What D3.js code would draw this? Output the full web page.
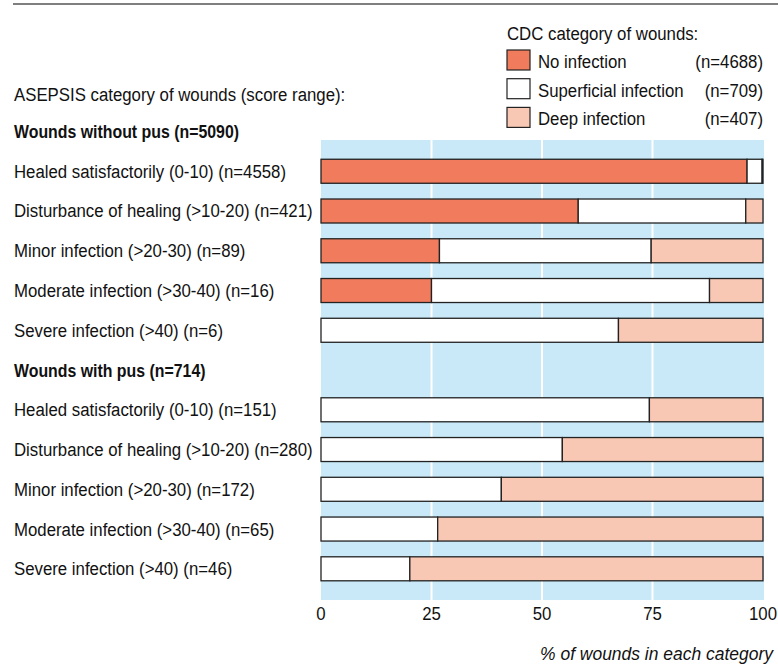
<!DOCTYPE html>
<html>
<head>
<meta charset="utf-8">
<script src="https://cdn.jsdelivr.net/npm/d3@7"></script>
<style>
  body { margin: 0; background: #fff; }
  svg text { font-family: "Liberation Sans", Arial, sans-serif; fill: #111; }
</style>
</head>
<body>
<div id="chart"></div>
<script>
// row labels (headers are drawn bold, without bars)
const rowLabels = [
    "Wounds without pus (n=5090)",
    "Healed satisfactorily (0-10) (n=4558)",
    "Disturbance of healing (>10-20) (n=421)",
    "Minor infection (>20-30) (n=89)",
    "Moderate infection (>30-40) (n=16)",
    "Severe infection (>40) (n=6)",
    "Wounds with pus (n=714)",
    "Healed satisfactorily (0-10) (n=151)",
    "Disturbance of healing (>10-20) (n=280)",
    "Minor infection (>20-30) (n=172)",
    "Moderate infection (>30-40) (n=65)",
    "Severe infection (>40) (n=46)"
];
const headerRows = [0, 6];

// percentages per row (null = header row)
const noInfection = [null, 96.4, 58.2, 26.8, 25.0, 0, null, 0, 0, 0, 0, 0];
const superficial = [null, 3.4, 37.9, 47.9, 62.9, 67.3, null, 74.3, 54.6, 40.8, 26.4, 20.1];
const deep        = [null, 0.2, 3.9, 25.3, 12.1, 32.7, null, 25.7, 45.4, 59.2, 73.6, 79.9];

const seriesKeys = ["No infection", "Superficial infection", "Deep infection"];
const seriesN = ["(n=4688)", "(n=709)", "(n=407)"];
const xTicks = [0, 25, 50, 75, 100];

// squeeze text sideways to mimic the condensed typeface of the original
function condense(sel, factor) {
    sel.each(function() {
        const len = this.getComputedTextLength();
        d3.select(this)
            .attr("textLength", len * factor)
            .attr("lengthAdjust", "spacingAndGlyphs");
    });
}

function init() {
    const w = 778, h = 668;
    const svg = d3.select("#chart").append("svg")
        .attr("width", w)
        .attr("height", h);

    const xScale = d3.scaleLinear().domain([0, 100]).range([321, 763]);
    const yScale = d3.scalePoint()
        .domain(d3.range(rowLabels.length))
        .range([131.5, 568.8]);
    const barH = 24;

    const color = d3.scaleOrdinal()
        .domain(seriesKeys)
        .range(["#f07b5d", "#ffffff", "#f9c8b4"]);

    // rule at the top
    svg.append("line")
        .attr("x1", 13).attr("x2", w)
        .attr("y1", 4).attr("y2", 4)
        .attr("stroke", "#555").attr("stroke-width", 1.6);

    // blue plot background
    svg.append("rect")
        .attr("x", xScale(0))
        .attr("y", 140)
        .attr("width", xScale(100) - xScale(0) + 1)
        .attr("height", 460)
        .attr("fill", "#c9e9f8");

    // white grid lines
    svg.append("g")
        .selectAll("line")
        .data(xTicks.slice(1, 4))
        .enter()
        .append("line")
        .attr("x1", d => xScale(d)).attr("x2", d => xScale(d))
        .attr("y1", 140).attr("y2", 600)
        .attr("stroke", "#fff").attr("stroke-width", 2);

    // stacked data
    const table = rowLabels.map(function(lab, i) {
        return {
            row: i,
            "No infection": noInfection[i],
            "Superficial infection": superficial[i],
            "Deep infection": deep[i]
        };
    }).filter(d => d["No infection"] !== null);

    const stacked = d3.stack().keys(seriesKeys)(table);

    svg.append("g")
        .selectAll("g")
        .data(stacked)
        .enter()
        .append("g")
        .attr("fill", d => color(d.key))
        .selectAll("rect")
        .data(d => d.filter(p => p[1] - p[0] > 0))
        .enter()
        .append("rect")
        .attr("x", d => xScale(d[0]))
        .attr("y", d => yScale(d.data.row) - barH / 2)
        .attr("width", d => xScale(d[1]) - xScale(d[0]))
        .attr("height", barH)
        .attr("stroke", "#222")
        .attr("stroke-width", 1.3);

    // row labels
    const labels = svg.append("g")
        .selectAll("text")
        .data(rowLabels)
        .enter()
        .append("text")
        .attr("x", 14)
        .attr("y", (d, i) => yScale(i))
        .attr("dy", "0.36em")
        .style("font-size", "18px")
        .style("font-weight", (d, i) => headerRows.includes(i) ? "bold" : "normal")
        .text(d => d);

    // factors from the widths of two labels in the original
    const plainFactor = 272 / labels.filter((d, i) => i == 1).node().getComputedTextLength();
    const boldFactor = 225 / labels.filter((d, i) => i == 0).node().getComputedTextLength();

    labels.filter((d, i) => !headerRows.includes(i)).call(condense, plainFactor);
    labels.filter((d, i) => headerRows.includes(i)).call(condense, boldFactor);

    svg.append("text")
        .attr("x", 14).attr("y", 100.5)
        .style("font-size", "18px")
        .text("ASEPSIS category of wounds (score range):")
        .call(condense, plainFactor);

    // x axis tick labels
    svg.append("g")
        .attr("transform", "translate(0,620)")
        .selectAll("text")
        .data(xTicks)
        .enter()
        .append("text")
        .attr("x", d => xScale(d))
        .attr("text-anchor", "middle")
        .style("font-size", "18px")
        .text(d => d)
        .call(condense, plainFactor);

    svg.append("text")
        .attr("x", 773).attr("y", 660)
        .attr("text-anchor", "end")
        .style("font-size", "18px")
        .style("font-style", "italic")
        .text("% of wounds in each category")
        .call(condense, plainFactor * 1.04);

    // legend
    svg.append("text")
        .attr("x", 507).attr("y", 40)
        .style("font-size", "18px")
        .text("CDC category of wounds:")
        .call(condense, plainFactor);

    const legend = svg.append("g")
        .selectAll("g")
        .data(seriesKeys)
        .enter()
        .append("g")
        .attr("transform", (d, i) => `translate(507,${50 + i * 28.7})`);

    legend.append("rect")
        .attr("width", 23).attr("height", 20)
        .attr("fill", d => color(d))
        .attr("stroke", "#222").attr("stroke-width", 1.2);

    legend.append("text")
        .attr("x", 31).attr("y", 18)
        .style("font-size", "18px")
        .text(d => d)
        .call(condense, plainFactor);

    legend.append("text")
        .attr("x", 256).attr("y", 18)
        .attr("text-anchor", "end")
        .style("font-size", "18px")
        .text((d, i) => seriesN[i])
        .call(condense, plainFactor);
}

window.onload = init();
</script>
</body>
</html>
